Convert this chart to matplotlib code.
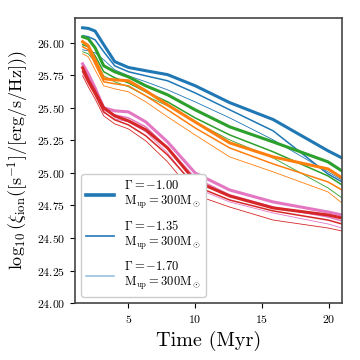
import matplotlib
matplotlib.use('Agg')
import matplotlib.pyplot as plt

plt.rcParams['font.family'] = 'cmr10'
plt.rcParams['mathtext.fontset'] = 'cm'
plt.rcParams['axes.formatter.use_mathtext'] = True

# time grid (Myr)
time = [1.58, 2.0, 2.51, 3.16, 3.98, 5.01, 6.31, 7.94, 10.0, 12.59, 15.85, 19.95, 21.0]

# log10 xi_ion for each colour, Gamma = -1.00 / -1.35 / -1.70
blue = [
    [26.115, 26.11, 26.09, 25.985, 25.855, 25.81, 25.785, 25.755, 25.67, 25.54, 25.41, 25.17, 25.115],
    [26.054, 26.046, 26.023, 25.931, 25.823, 25.777, 25.746, 25.708, 25.615, 25.485, 25.323, 24.992, 24.931],
    [25.946, 25.938, 25.923, 25.869, 25.792, 25.746, 25.700, 25.638, 25.546, 25.423, 25.254, 25.008, 24.946],
]
green = [
    [26.046, 26.031, 25.962, 25.823, 25.777, 25.738, 25.669, 25.600, 25.485, 25.354, 25.238, 25.085, 25.015],
    [25.985, 25.969, 25.900, 25.777, 25.731, 25.692, 25.623, 25.546, 25.423, 25.292, 25.162, 24.977, 24.908],
    [25.931, 25.915, 25.854, 25.746, 25.700, 25.662, 25.592, 25.515, 25.392, 25.254, 25.115, 24.885, 24.808],
]
orange = [
    [26.008, 25.977, 25.869, 25.723, 25.715, 25.708, 25.631, 25.523, 25.392, 25.231, 25.123, 25.031, 24.962],
    [25.969, 25.946, 25.838, 25.700, 25.685, 25.669, 25.592, 25.485, 25.346, 25.192, 25.069, 24.931, 24.869],
    [25.915, 25.892, 25.792, 25.669, 25.646, 25.623, 25.546, 25.431, 25.292, 25.123, 25.008, 24.854, 24.769],
]
pink = [
    [25.838, 25.762, 25.654, 25.500, 25.477, 25.469, 25.392, 25.238, 25.000, 24.869, 24.777, 24.700, 24.677],
    [25.823, 25.738, 25.631, 25.485, 25.446, 25.423, 25.354, 25.192, 24.962, 24.831, 24.738, 24.662, 24.631],
    [25.792, 25.715, 25.608, 25.462, 25.415, 25.392, 25.315, 25.154, 24.885, 24.777, 24.692, 24.608, 24.577],
]
red = [
    [25.808, 25.715, 25.623, 25.500, 25.438, 25.400, 25.331, 25.192, 24.938, 24.823, 24.731, 24.677, 24.654],
    [25.777, 25.692, 25.600, 25.469, 25.408, 25.369, 25.285, 25.138, 24.900, 24.792, 24.708, 24.638, 24.608],
    [25.746, 25.662, 25.569, 25.438, 25.377, 25.338, 25.246, 25.085, 24.831, 24.738, 24.638, 24.577, 24.554],
]

gammas = ['-1.00', '-1.35', '-1.70']
widths = [2.2, 1.1, 0.6]

fig = plt.figure(figsize=(3.6, 3.6), dpi=100)
ax = fig.add_axes([0.208, 0.158, 0.742, 0.792])

groups = [(blue, 'tab:blue'), (green, 'tab:green'), (orange, 'tab:orange'),
          (pink, 'tab:pink'), (red, 'tab:red')]
for series, col in groups:
    for k, vals in enumerate(series):
        ax.plot(time, vals, color=col, lw=widths[k])

# legend handles (blue only)
handles = []
for k, g in enumerate(gammas):
    h, = ax.plot([], [], color='tab:blue', lw=[2.6, 1.3, 1.1][k], alpha=[1, 0.9, 0.5][k],
                 label=r'$\Gamma = %s$' % g + '\n' + r'$\mathrm{M_{up}} = 300\mathrm{M_\odot}$')
    handles.append(h)
ax.legend(handles=handles, loc='lower left', fontsize=9, handlelength=2.2,
          labelspacing=0.6, borderpad=0.4, framealpha=1)

ax.set_xlim(1, 21)
ax.set_ylim(24, 26.19)
ax.set_xticks([5, 10, 15, 20])
ax.set_yticks([24.0, 24.25, 24.5, 24.75, 25.0, 25.25, 25.5, 25.75, 26.0])
ax.tick_params(labelsize=8.5, direction='out', length=3.5)
for s in ax.spines.values():
    s.set_color('#444444')
    s.set_linewidth(1.2)
ax.set_xlabel('Time (Myr)', fontsize=14.5)
ax.set_ylabel(r'$\log_{10}(\xi_{\rm ion}([{\rm s}^{-1}]/[{\rm erg/s/Hz}]))$', fontsize=13)

fig.savefig('out.png', dpi=100)
